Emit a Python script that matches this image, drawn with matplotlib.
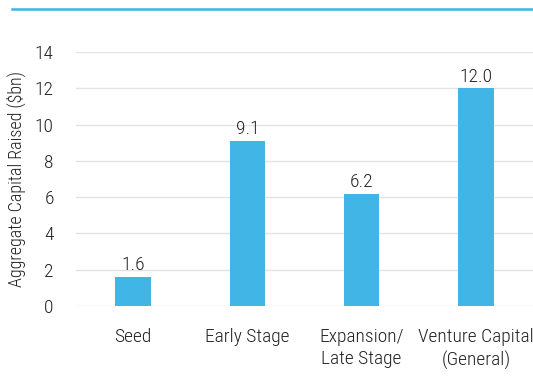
import matplotlib
matplotlib.use("Agg")
import matplotlib.pyplot as plt
from matplotlib.lines import Line2D

categories = ["Seed", "Early Stage", "Expansion/\nLate Stage", "Venture Capital\n(General)"]
values = [1.6, 9.1, 6.2, 12.0]
yticks = [0, 2, 4, 6, 8, 10, 12, 14]

plt.rcParams['font.family'] = ['Roboto Condensed', 'DejaVu Sans']
plt.rcParams['font.weight'] = 300
bar_color = '#41B6E6'
text_color = '#222222'

fig = plt.figure(figsize=(5.33, 3.76), dpi=100)
ax = fig.add_axes([0.1426, 0.1862, 0.8574, 0.6755])

x = range(len(categories))
ax.bar(x, values, width=0.31, color=bar_color, zorder=3)
for xi, v in zip(x, values):
    ax.text(xi, v + 0.14, f"{v:.1f}", ha='center', va='bottom', fontsize=14,
            color=text_color, fontweight=300)

ax.set_xlim(-0.5, 3.5)
ax.set_ylim(0, 14)
ax.set_yticks(yticks)
ax.set_yticklabels([str(t) for t in yticks], fontsize=14, color=text_color, fontweight=300)
ax.set_xticks(list(x))
ax.set_xticklabels(categories, fontsize=14, color=text_color, linespacing=1.3, fontweight=300)
ax.tick_params(axis='both', length=0)
ax.tick_params(axis='y', pad=16)
ax.tick_params(axis='x', pad=16)
ax.grid(axis='y', color='#E3E3E3', linewidth=1, zorder=0)
for s in ax.spines.values():
    s.set_visible(False)
ax.set_ylabel("Aggregate Capital Raised ($bn)", fontsize=13, color=text_color,
              labelpad=6, fontweight=300)

fig.add_artist(Line2D([0.0225, 1.0], [0.976, 0.976], transform=fig.transFigure,
                      color='#3CB4E5', linewidth=1.8))

fig.savefig("out.png", dpi=100)
